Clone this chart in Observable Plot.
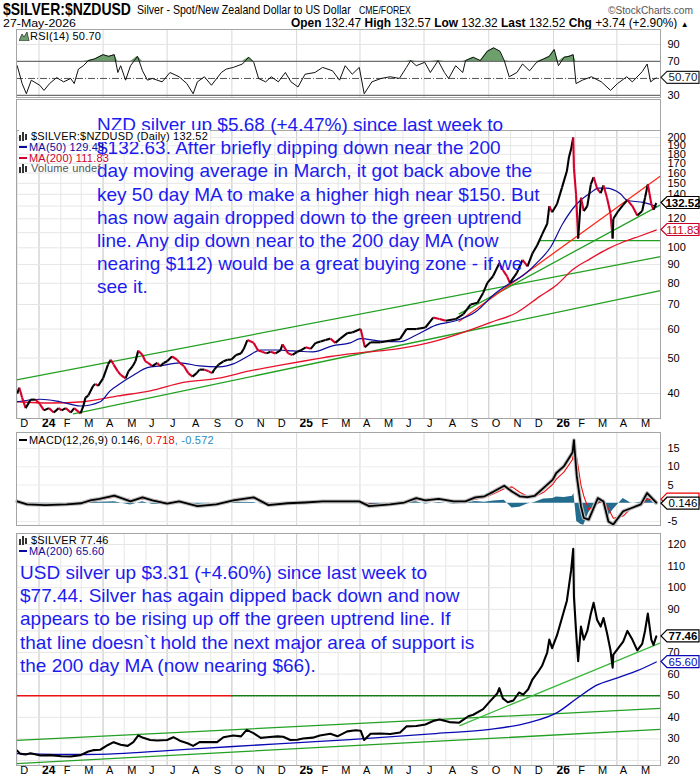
<!DOCTYPE html>
<html><head><meta charset="utf-8">
<script src="https://cdn.jsdelivr.net/npm/d3@7"></script>
<script src="https://cdn.jsdelivr.net/npm/@observablehq/plot@0.6"></script>
<style>
body{margin:0;background:#fff;}
#chart{position:relative;width:700px;height:780px;overflow:hidden;background:#fff;font-family:"Liberation Sans",Arial,Helvetica,sans-serif;}
#chart svg{position:absolute;left:0;}
.note{position:absolute;color:#1c1cf0;font-size:19px;line-height:23.2px;white-space:pre;font-family:"Liberation Sans",Arial,sans-serif;}
.leg{position:absolute;font-size:11px;letter-spacing:0.2px;line-height:10.5px;white-space:pre;font-family:"Liberation Sans",Arial,sans-serif;}
</style></head><body><div id="chart"></div>
<script>
// ---------------- DATA ----------------
const xStart = "2023-11-30", xEnd = "2026-06-02";
const monthStarts = ["2023-12-01","2024-01-01","2024-02-01","2024-03-01","2024-04-01","2024-05-01","2024-06-01","2024-07-01","2024-08-01","2024-09-01","2024-10-01","2024-11-01","2024-12-01","2025-01-01","2025-02-01","2025-03-01","2025-04-01","2025-05-01","2025-06-01","2025-07-01","2025-08-01","2025-09-01","2025-10-01","2025-11-01","2025-12-01","2026-01-01","2026-02-01","2026-03-01","2026-04-01","2026-05-01"];
const monthLabels = ["D","24","F","M","A","M","J","J","A","S","O","N","D","25","F","M","A","M","J","J","A","S","O","N","D","26","F","M","A","M"];

const rsiTicks = [90,70,30];
const priceGrid = [40,50,60,70,80,90,100,110,120,130,140,150,160,170,180,190,200];
const priceTickLabels = [40,50,60,70,80,90,100,120,140,150,160,170,180,190,200];
const macdTicks = [15,10,5,-5];
const usdGrid = [20,30,40,50,60,70,80,90,100,110,120];
const usdTickLabels = [20,30,40,50,60,70,90,100,110,120];

const rsi14 = [["2023-12-01",65],["2023-12-08",44],["2023-12-14",32],["2023-12-21",48],["2024-01-02",42],["2024-01-08",36],["2024-01-16",44],["2024-01-26",51],["2024-02-05",46],["2024-02-15",50],["2024-02-20",44],["2024-02-26",61],["2024-03-04",65],["2024-03-11",71],["2024-03-20",73],["2024-04-01",78],["2024-04-09",76],["2024-04-17",78],["2024-04-22",57],["2024-04-26",65],["2024-05-03",48],["2024-05-10",65],["2024-05-20",76],["2024-05-27",59],["2024-06-03",48],["2024-06-10",50],["2024-06-24",46],["2024-07-05",57],["2024-07-18",52],["2024-07-29",44],["2024-08-07",32],["2024-08-13",46],["2024-08-23",52],["2024-09-02",42],["2024-09-16",57],["2024-09-23",61],["2024-10-03",63],["2024-10-16",67],["2024-10-25",75],["2024-11-01",69],["2024-11-08",50],["2024-11-18",46],["2024-11-26",52],["2024-12-06",46],["2024-12-16",57],["2024-12-24",46],["2025-01-03",40],["2025-01-13",55],["2025-01-27",57],["2025-02-07",63],["2025-02-21",59],["2025-03-03",48],["2025-03-11",65],["2025-03-21",55],["2025-03-31",63],["2025-04-07",32],["2025-04-18",46],["2025-05-01",50],["2025-05-14",52],["2025-05-27",50],["2025-06-06",63],["2025-06-12",71],["2025-06-20",65],["2025-07-02",69],["2025-07-10",57],["2025-07-21",71],["2025-07-30",57],["2025-08-05",50],["2025-08-15",65],["2025-08-25",57],["2025-08-29",71],["2025-09-09",75],["2025-09-19",71],["2025-09-29",82],["2025-10-08",86],["2025-10-17",82],["2025-10-23",71],["2025-10-30",52],["2025-11-10",57],["2025-11-18",67],["2025-11-28",59],["2025-12-08",69],["2025-12-18",73],["2025-12-26",76],["2026-01-02",84],["2026-01-08",65],["2026-01-16",75],["2026-01-23",76],["2026-01-29",78],["2026-02-02",44],["2026-02-11",48],["2026-02-24",52],["2026-03-10",46],["2026-03-23",36],["2026-04-02",44],["2026-04-15",52],["2026-04-23",46],["2026-05-07",58],["2026-05-14",67],["2026-05-19",46],["2026-05-22",48],["2026-05-27",50.7]];

const nzdPrice = [["2023-12-01",40.0],["2023-12-04",41.5],["2023-12-08",39.0],["2023-12-13",36.5],["2023-12-20",38.5],["2023-12-27",38.5],["2024-01-02",37.5],["2024-01-08",36.0],["2024-01-15",36.5],["2024-01-22",35.5],["2024-01-29",36.5],["2024-02-02",36.0],["2024-02-08",36.5],["2024-02-15",35.5],["2024-02-20",36.5],["2024-02-29",35.3],["2024-03-04",37.0],["2024-03-07",39.0],["2024-03-11",39.5],["2024-03-18",42.0],["2024-03-21",42.5],["2024-03-25",42.0],["2024-04-01",44.0],["2024-04-08",48.0],["2024-04-12",49.5],["2024-04-16",48.0],["2024-04-22",46.0],["2024-04-26",45.0],["2024-05-03",44.0],["2024-05-07",46.0],["2024-05-13",47.5],["2024-05-17",49.0],["2024-05-21",52.4],["2024-05-27",51.0],["2024-05-31",49.0],["2024-06-04",48.5],["2024-06-10",47.5],["2024-06-17",48.5],["2024-06-21",47.5],["2024-06-26",48.5],["2024-07-01",49.0],["2024-07-08",50.5],["2024-07-15",49.5],["2024-07-19",48.5],["2024-07-25",47.5],["2024-07-31",45.5],["2024-08-06",44.5],["2024-08-12",45.5],["2024-08-16",46.5],["2024-08-23",46.5],["2024-08-29",46.0],["2024-09-03",45.5],["2024-09-06",46.5],["2024-09-12",48.0],["2024-09-19",49.0],["2024-09-25",49.5],["2024-09-30",49.5],["2024-10-07",51.0],["2024-10-14",51.5],["2024-10-18",53.0],["2024-10-23",56.0],["2024-10-28",55.5],["2024-11-01",55.0],["2024-11-07",52.5],["2024-11-13",52.0],["2024-11-19",51.5],["2024-11-25",52.0],["2024-12-02",51.5],["2024-12-09",52.5],["2024-12-12",54.5],["2024-12-20",51.5],["2024-12-26",51.0],["2025-01-02",52.0],["2025-01-07",52.5],["2025-01-14",53.5],["2025-01-21",53.0],["2025-01-28",55.0],["2025-02-04",55.5],["2025-02-11",56.0],["2025-02-18",56.5],["2025-02-25",55.0],["2025-03-04",56.5],["2025-03-14",58.5],["2025-03-21",58.7],["2025-04-02",60.0],["2025-04-08",53.5],["2025-04-16",55.2],["2025-04-30",55.2],["2025-05-14",55.8],["2025-05-28",56.4],["2025-06-06",60.0],["2025-06-20",60.0],["2025-07-03",60.6],["2025-07-14",64.5],["2025-07-23",63.9],["2025-08-01",63.2],["2025-08-15",63.9],["2025-08-26",65.9],["2025-09-05",70.0],["2025-09-15",70.8],["2025-09-23",75.3],["2025-09-29",80.2],["2025-10-07",83.6],["2025-10-16",90.8],["2025-10-21",87.0],["2025-10-27",83.6],["2025-10-31",80.2],["2025-11-10",85.4],["2025-11-18",92.7],["2025-11-25",89.0],["2025-12-02",96.5],["2025-12-09",101.8],["2025-12-16",109.0],["2025-12-23",116.3],["2025-12-26",130.0],["2025-12-30",125.0],["2026-01-06",131.7],["2026-01-13",146.0],["2026-01-20",162.0],["2026-01-23",177.0],["2026-01-26",186.0],["2026-01-29",200.0],["2026-01-30",165.0],["2026-02-02",140.0],["2026-02-05",106.0],["2026-02-09",137.0],["2026-02-13",126.0],["2026-02-18",130.0],["2026-02-23",149.0],["2026-02-27",156.0],["2026-03-04",145.0],["2026-03-09",141.0],["2026-03-13",148.0],["2026-03-18",137.0],["2026-03-23",124.0],["2026-03-26",106.0],["2026-03-27",120.0],["2026-04-03",126.0],["2026-04-10",131.0],["2026-04-16",135.0],["2026-04-23",130.0],["2026-04-30",122.5],["2026-05-07",126.0],["2026-05-11",137.0],["2026-05-15",149.0],["2026-05-20",131.7],["2026-05-23",127.0],["2026-05-27",132.52]];

const nzdMA50 = [["2023-12-01",38.0],["2024-01-03",38.6],["2024-01-31",38.0],["2024-02-29",37.0],["2024-03-28",38.0],["2024-04-11",40.7],["2024-04-26",42.7],["2024-05-14",44.9],["2024-06-03",47.1],["2024-06-21",47.6],["2024-07-19",48.5],["2024-08-16",47.6],["2024-09-13",47.3],["2024-10-03",48.2],["2024-10-23",50.5],["2024-11-11",52.6],["2024-12-05",52.6],["2024-12-27",52.3],["2025-01-24",52.0],["2025-02-21",54.0],["2025-03-18",55.0],["2025-04-02",56.5],["2025-04-30",55.6],["2025-05-28",55.4],["2025-06-20",57.8],["2025-07-18",61.5],["2025-08-15",63.2],["2025-09-12",66.8],["2025-10-10",75.0],["2025-11-01",80.2],["2025-11-17",83.6],["2025-12-08",90.8],["2025-12-28",100.5],["2026-01-14",116.3],["2026-02-03",131.7],["2026-02-22",141.0],["2026-03-06",145.5],["2026-03-16",145.5],["2026-04-06",140.4],["2026-04-16",134.6],["2026-05-09",133.0],["2026-05-27",129.48]];

const nzdMA200 = [["2023-12-01",38.0],["2024-01-17",37.7],["2024-03-04",38.0],["2024-04-22",39.4],["2024-06-07",40.7],["2024-07-24",42.9],["2024-09-10",44.0],["2024-10-28",46.2],["2024-12-13",48.0],["2025-01-31",49.8],["2025-02-18",50.5],["2025-04-06",51.8],["2025-05-24",53.0],["2025-07-10",55.2],["2025-08-26",58.8],["2025-10-03",62.5],["2025-11-10",66.6],["2025-12-13",73.8],["2026-01-06",79.3],["2026-01-28",87.1],["2026-02-22",93.3],["2026-03-19",99.3],["2026-04-10",103.7],["2026-05-04",107.7],["2026-05-27",111.83]];

const nzdUpperChannel = [["2023-11-30",43.6],["2026-06-02",94.6]];
const nzdLowerChannel = [["2024-02-19",35.2],["2026-06-02",76.4]];
const nzdUptrend = [["2025-08-20",66],["2026-06-02",131]];
const nzdResistance = [["2025-08-20",63],["2026-06-02",157]];
const nzdSupport = [["2025-12-13",104.6],["2026-06-02",104.6]];

const macdDates = ["2023-12-01","2023-12-15","2024-01-10","2024-02-09","2024-03-01","2024-03-14","2024-03-27","2024-04-17","2024-05-10","2024-05-27","2024-06-10","2024-07-01","2024-07-18","2024-08-13","2024-09-09","2024-10-03","2024-11-01","2024-11-22","2024-12-19","2025-01-13","2025-02-07","2025-03-06","2025-03-31","2025-04-14","2025-05-14","2025-06-03","2025-06-20","2025-07-03","2025-07-22","2025-08-12","2025-08-29","2025-09-12","2025-09-25","2025-10-08","2025-10-23","2025-11-03","2025-11-14","2025-11-25","2025-12-05","2025-12-18","2025-12-31","2026-01-05","2026-01-16","2026-01-28","2026-01-30","2026-02-03","2026-02-09","2026-02-13","2026-02-20","2026-03-05","2026-03-13","2026-03-20","2026-03-27","2026-04-10","2026-04-22","2026-05-05","2026-05-14","2026-05-27"];
const macdLine = [0.5,-0.3,-0.5,-0.3,0,0.8,1.2,2.1,0.5,1.6,0.8,-0.1,0.5,-0.8,-0.3,0.8,1.6,-0.5,0,0.2,0.5,0.5,0.5,-0.8,-0.3,0.2,1.4,0.8,1.2,0.5,0.5,1.6,1.9,3.2,4.8,3.2,1.9,1.7,2.0,4.2,6.5,8.3,10.2,13.9,17.3,7.5,-0.8,-4.0,-4.5,1.4,0.5,-5.0,-5.8,-2.2,-1.3,-0.3,2.8,0.146];
const signalLine = [0.6,-0.1,-0.4,-0.3,-0.1,0.4,0.9,1.7,1.0,1.2,1.1,0.2,0.3,-0.5,-0.4,0.5,1.4,0,-0.1,0.1,0.4,0.5,0.6,-0.2,-0.4,0,1.0,1.0,1.0,0.7,0.5,1.1,1.6,2.6,4.0,4.5,3.0,1.9,1.8,3.0,5.2,6.6,8.6,12.0,14.6,12.5,5.0,2.0,-1.8,0,0.8,-1.5,-4.1,-3.5,-1.2,-0.6,1.2,0.718];

const usdPrice = [["2023-12-01",24.6],["2023-12-05",23.2],["2023-12-13",22.8],["2023-12-20",23.4],["2024-01-03",22.3],["2024-01-17",22.5],["2024-02-02",22.0],["2024-02-15",21.9],["2024-02-29",22.5],["2024-03-11",24.2],["2024-03-18",24.8],["2024-03-28",25.0],["2024-04-08",27.2],["2024-04-16",28.5],["2024-04-26",27.3],["2024-05-06",26.8],["2024-05-14",28.5],["2024-05-21",31.6],["2024-05-28",30.5],["2024-06-07",29.5],["2024-06-17",29.3],["2024-07-01",29.5],["2024-07-10",30.8],["2024-07-19",29.2],["2024-07-30",28.0],["2024-08-07",26.8],["2024-08-16",28.5],["2024-08-30",28.5],["2024-09-10",28.5],["2024-09-19",30.8],["2024-10-03",31.6],["2024-10-14",31.2],["2024-10-22",34.2],["2024-10-31",32.8],["2024-11-11",30.5],["2024-11-20",30.8],["2024-12-05",31.2],["2024-12-13",31.0],["2024-12-23",29.5],["2025-01-02",29.6],["2025-01-10",30.2],["2025-01-24",30.6],["2025-02-03",31.6],["2025-02-18",32.4],["2025-02-28",31.2],["2025-03-14",33.5],["2025-03-26",34.0],["2025-04-02",33.8],["2025-04-07",29.5],["2025-04-16",32.4],["2025-04-30",32.5],["2025-05-14",32.3],["2025-05-28",33.0],["2025-06-06",35.8],["2025-06-20",36.0],["2025-07-03",36.7],["2025-07-14",38.3],["2025-07-23",39.0],["2025-08-06",37.8],["2025-08-20",37.5],["2025-09-02",40.5],["2025-09-09",41.2],["2025-09-23",43.8],["2025-10-03",47.5],["2025-10-13",51.0],["2025-10-16",53.5],["2025-10-21",48.8],["2025-10-28",47.0],["2025-11-05",47.8],["2025-11-13",51.5],["2025-11-19",50.5],["2025-11-26",53.0],["2025-12-02",57.5],["2025-12-10",61.0],["2025-12-16",64.0],["2025-12-23",70.0],["2025-12-26",76.0],["2025-12-30",72.0],["2026-01-06",78.0],["2026-01-13",86.0],["2026-01-20",94.0],["2026-01-23",101.0],["2026-01-26",108.0],["2026-01-29",118.0],["2026-01-30",96.0],["2026-02-02",80.0],["2026-02-05",66.0],["2026-02-09",82.0],["2026-02-13",76.0],["2026-02-18",80.0],["2026-02-23",88.0],["2026-02-27",93.0],["2026-03-04",85.0],["2026-03-09",82.0],["2026-03-13",86.0],["2026-03-18",79.0],["2026-03-23",71.0],["2026-03-26",63.0],["2026-03-27",69.0],["2026-04-03",72.0],["2026-04-10",75.0],["2026-04-16",80.0],["2026-04-23",76.0],["2026-04-30",71.0],["2026-05-07",74.0],["2026-05-11",80.0],["2026-05-15",88.0],["2026-05-20",76.0],["2026-05-23",73.5],["2026-05-27",77.46]];

const usdMA200 = [["2023-12-01",23.2],["2024-01-03",23.0],["2024-03-04",22.8],["2024-04-22",23.2],["2024-07-01",24.6],["2024-10-03",26.5],["2025-01-04",28.3],["2025-03-18",29.7],["2025-07-18",32.5],["2025-10-03",34.4],["2025-11-27",37.6],["2026-01-06",42.2],["2026-02-03",48.7],["2026-03-02",54.7],["2026-04-03",58.4],["2026-05-01",61.7],["2026-05-27",65.6]];

const usdUpperChannel = [["2023-11-30",29.3],["2026-06-02",44.1]];
const usdLowerChannel = [["2023-11-30",18.6],["2026-06-02",34.4]];
const usdUptrend = [["2025-08-21",36.2],["2026-06-02",74.5]];
const usdLevelRed = [["2023-11-30",50],["2024-10-01",50]];
const usdLevelGreen = [["2024-10-01",50],["2026-06-02",50]];

const nzdNote = "NZD silver up $5.68 (+4.47%) since last week to\n$132.63. After briefly dipping down near the 200\nday moving average in March, it got back above the\nkey 50 day MA to make a higher high near $150. But\nhas now again dropped down to the green uptrend\nline. Any dip down near to the 200 day MA (now\nnearing $112) would be a great buying zone - if we\nsee it.";
const usdNote = "USD silver up $3.31 (+4.60%) since last week to\n$77.44. Silver has again dipped back down and now\nappears to be rising up off the green uptrend line. If\nthat line doesn`t hold the next major area of support is\nthe 200 day MA (now nearing $66).";

// ---------------- HELPERS ----------------
const FONT = '"Liberation Sans", Arial, Helvetica, sans-serif';
const root = document.getElementById("chart");
const P = arr => arr.map(([d, v]) => ({date: new Date(d), v}));
const last = arr => arr[arr.length - 1][1];
const xDomain = [new Date(xStart), new Date(xEnd)];
const months = monthStarts.map((d, i) => {
  const dt = new Date(d);
  return {date: dt, label: monthLabels[i], year: /\d/.test(monthLabels[i]), q: dt.getUTCMonth() % 3 === 0};
});
const quarters = months.filter(m => m.q);
const W = 700, ML = 16, MR = 40;
const GREEN = "#22a022", RED = "#e8102a", NAVY = "#0a0a9c", TEAL = "#236c8e";
const style = {background: "transparent", overflow: "visible", fontFamily: FONT, fontSize: "11px", color: "#000"};
const frame = () => Plot.frame({stroke: "#a5a5a5"});
const xLabels = (dy) => [
  Plot.text(months.filter(m => !m.year), {x: "date", text: "label", frameAnchor: "bottom", dy, dx: 3, textAnchor: "start", fontSize: 11}),
  Plot.text(months.filter(m => m.year), {x: "date", text: "label", frameAnchor: "bottom", dy, dx: 3, textAnchor: "start", fontSize: 12, fontWeight: "bold"})
];
const yAxis = (ticks) => Plot.axisY({anchor: "right", ticks, tickSize: 0, tickPadding: 7, tickFormat: d => String(d), label: null, fontSize: 11});

function place(el, top) { el.style.top = top + "px"; root.appendChild(el); }
function valueBox(svg, y, label, color, bold) {
  const x0 = W - MR + 1, h = 6, w = 38;
  const g = d3.select(svg).append("g");
  g.append("path").attr("d", `M${x0},${y} L${x0+6},${y-h} L${x0+w},${y-h} L${x0+w},${y+h} L${x0+6},${y+h} Z`)
    .attr("fill", "white").attr("stroke", color).attr("stroke-width", 1.2);
  g.append("text").attr("x", x0 + 6 + (w - 6) / 2).attr("y", y + 4).attr("text-anchor", "middle").attr("fill", color)
    .attr("font-size", 11.5).attr("font-weight", bold ? "bold" : "normal").attr("font-family", FONT).text(label);
}
function segments(pts) {
  const out = [];
  for (let i = 1; i < pts.length; i++) out.push({x1: pts[i-1].date, y1: pts[i-1].v, x2: pts[i].date, y2: pts[i].v, up: pts[i].v >= pts[i-1].v});
  return out;
}

// ---------------- HEADER ----------------
const header = document.createElementNS("http://www.w3.org/2000/svg", "svg");
header.setAttribute("width", 700); header.setAttribute("height", 29);
header.innerHTML = `
<text id="h1" font-family='${FONT}' font-weight="bold" font-size="16">$SILVER:$NZDUSD</text>
<text id="h2" font-family='${FONT}' font-size="12">Silver - Spot/New Zealand Dollar to US Dollar</text>
<text id="h3" font-family='${FONT}' font-size="10">CME/FOREX</text>
<text id="h4" font-family='${FONT}' font-size="10.5" fill="#555">©StockCharts.com</text>
<text id="h5" font-family='${FONT}' font-size="11.5">27-May-2026</text>
<text id="h6" font-family='${FONT}' font-size="12"><tspan font-weight="bold">Open</tspan> 132.47 <tspan font-weight="bold">High</tspan> 132.57 <tspan font-weight="bold">Low</tspan> 132.32 <tspan font-weight="bold">Last</tspan> 132.52 <tspan font-weight="bold">Chg</tspan> +3.74 (+2.90%) <tspan font-size="8">▲</tspan></text>`;
place(header, 0);
function fitText(id, x, y, target) {
  const el = header.querySelector("#" + id);
  const s = target / el.getComputedTextLength();
  el.setAttribute("transform", `translate(${x},${y}) scale(${s},1)`);
}
fitText("h1", 3, 15, 128);
fitText("h2", 137, 14, 214);
fitText("h3", 359, 14, 52);
fitText("h4", 608, 14, 85);
fitText("h5", 3, 27, 73);
fitText("h6", 291, 27, 398);

// ---------------- RSI ----------------
const rsiPts = P(rsi14);
const rsiPlot = Plot.plot({
  width: W, height: 78, marginLeft: ML, marginRight: MR, marginTop: 5, marginBottom: 5, style,
  x: {type: "utc", domain: xDomain, axis: null},
  y: {domain: [27.6, 107.6], axis: null},
  marks: [
    Plot.ruleX(quarters, {x: "date", stroke: "#d8d8d8"}),
    Plot.ruleY([90], {stroke: "#e4e4e4"}),
    Plot.areaY(rsiPts, {x: "date", y1: 70, y2: d => Math.max(d.v, 70), fill: "#6d9f6d"}),
    Plot.ruleY([70, 30], {stroke: "#6e6e6e", strokeWidth: 1.2}),
    Plot.ruleY([50], {stroke: "#555", strokeDasharray: "7,2,1,2"}),
    Plot.line(rsiPts, {x: "date", y: "v", stroke: "#111", strokeWidth: 1}),
    yAxis(rsiTicks),
    frame()
  ]
});
place(rsiPlot, 24);
valueBox(rsiPlot, rsiPlot.scale("y").apply(last(rsi14)), last(rsi14).toFixed(2), "#222", false);

// ---------------- NZD PRICE ----------------
const nzdPts = P(nzdPrice);
const priceTop = 209, priceBottom = 34.2;
const pricePlot = Plot.plot({
  width: W, height: 335, marginLeft: ML, marginRight: MR, marginTop: 2, marginBottom: 14, style,
  x: {type: "utc", domain: xDomain, axis: null},
  y: {type: "log", domain: [priceBottom, 254], axis: null},
  marks: [
    Plot.ruleX(months, {x: "date", y1: priceBottom, y2: priceTop, stroke: "#e6e6e6"}),
    Plot.ruleX(quarters, {x: "date", y1: priceBottom, y2: priceTop, stroke: "#cdcdcd"}),
    Plot.ruleY(priceGrid, {stroke: "#e6e6e6"}),
    Plot.ruleY([priceTop], {stroke: "#a5a5a5"}),
    Plot.line(P(nzdUpperChannel), {x: "date", y: "v", stroke: GREEN, strokeWidth: 1.3}),
    Plot.line(P(nzdLowerChannel), {x: "date", y: "v", stroke: GREEN, strokeWidth: 1.3}),
    Plot.line(P(nzdUptrend), {x: "date", y: "v", stroke: GREEN, strokeWidth: 1.3}),
    Plot.line(P(nzdSupport), {x: "date", y: "v", stroke: GREEN, strokeWidth: 1.3}),
    Plot.line(P(nzdResistance), {x: "date", y: "v", stroke: "#ff2a1a", strokeWidth: 1.3}),
    Plot.line(P(nzdMA200), {x: "date", y: "v", stroke: RED, strokeWidth: 1.3, curve: "monotone-x"}),
    Plot.line(P(nzdMA50), {x: "date", y: "v", stroke: NAVY, strokeWidth: 1.2, curve: "monotone-x"}),
    Plot.link(segments(nzdPts), {x1: "x1", y1: "y1", x2: "x2", y2: "y2", stroke: d => d.up ? "#000" : "#d4002a", strokeWidth: 2.1}),
    yAxis(priceTickLabels),
    xLabels(8),
    frame()
  ]
});
place(pricePlot, 97);
valueBox(pricePlot, pricePlot.scale("y").apply(last(nzdMA200)), last(nzdMA200).toFixed(2), "#c8002a", false);
valueBox(pricePlot, pricePlot.scale("y").apply(last(nzdPrice)), last(nzdPrice).toFixed(2), "#000", true);

// ---------------- MACD ----------------
const macdPts = macdDates.map((d, i) => ({date: new Date(d), m: macdLine[i], s: signalLine[i]}));
const macdPlot = Plot.plot({
  width: W, height: 99, marginLeft: ML, marginRight: MR, marginTop: 4, marginBottom: 2, style,
  x: {type: "utc", domain: xDomain, axis: null},
  y: {domain: [-6.1, 19.4], axis: null},
  marks: [
    Plot.ruleX(quarters, {x: "date", stroke: "#d8d8d8"}),
    Plot.ruleY(macdTicks, {stroke: "#ececec"}),
    Plot.areaY(macdPts, {x: "date", y: d => d.m - d.s, fill: TEAL}),
    Plot.line(macdPts, {x: "date", y: "s", stroke: "#ee1111", strokeWidth: 1.1}),
    Plot.line(macdPts, {x: "date", y: "m", stroke: "#bdbdbd", strokeWidth: 4}),
    Plot.line(macdPts, {x: "date", y: "m", stroke: "#000", strokeWidth: 1.8}),
    yAxis(macdTicks),
    frame()
  ]
});
place(macdPlot, 428);
valueBox(macdPlot, macdPlot.scale("y").apply(signalLine[signalLine.length-1]) - 1, "", "#e00", false);
valueBox(macdPlot, macdPlot.scale("y").apply(macdLine[macdLine.length-1]) + 1, String(macdLine[macdLine.length-1]), "#000", false);

// ---------------- USD PRICE ----------------
const usdPlot = Plot.plot({
  width: W, height: 253, marginLeft: ML, marginRight: MR, marginTop: 6, marginBottom: 15, style,
  x: {type: "utc", domain: xDomain, axis: null},
  y: {domain: [17.7, 125.1], axis: null},
  marks: [
    Plot.ruleX(months, {x: "date", stroke: "#e6e6e6"}),
    Plot.ruleX(quarters, {x: "date", stroke: "#cdcdcd"}),
    Plot.ruleY(usdGrid, {stroke: "#e6e6e6"}),
    Plot.line(P(usdLevelRed), {x: "date", y: "v", stroke: "#ee1111", strokeWidth: 1.3}),
    Plot.line(P(usdLevelGreen), {x: "date", y: "v", stroke: "#137a13", strokeWidth: 1.3, strokeDasharray: "2,1"}),
    Plot.line(P(usdUpperChannel), {x: "date", y: "v", stroke: GREEN, strokeWidth: 1.3}),
    Plot.line(P(usdLowerChannel), {x: "date", y: "v", stroke: GREEN, strokeWidth: 1.3}),
    Plot.line(P(usdUptrend), {x: "date", y: "v", stroke: "#3bb83b", strokeWidth: 1.3}),
    Plot.line(P(usdMA200), {x: "date", y: "v", stroke: "#0a0ab4", strokeWidth: 1.3, curve: "monotone-x"}),
    Plot.line(P(usdPrice), {x: "date", y: "v", stroke: "#000", strokeWidth: 2.1}),
    yAxis(usdTickLabels),
    xLabels(8),
    frame()
  ]
});
place(usdPlot, 527);
valueBox(usdPlot, usdPlot.scale("y").apply(last(usdMA200)), last(usdMA200).toFixed(2), "#0a0ab4", false);
valueBox(usdPlot, usdPlot.scale("y").apply(last(usdPrice)), last(usdPrice).toFixed(2), "#000", true);

// ---------------- ANNOTATIONS ----------------
function note(text, left, top) {
  const d = document.createElement("div"); d.className = "note"; d.textContent = text;
  d.style.left = left + "px"; place(d, top);
}
note(nzdNote, 97, 113);
note(usdNote, 20, 561);

// ---------------- LEGENDS ----------------
const icon = `<svg width="10" height="9" style="position:static;display:inline-block;vertical-align:-1px;margin-right:2px"><rect x="0" y="3" width="2" height="6" fill="#333"/><rect x="3" y="0" width="2" height="9" fill="#333"/><rect x="6" y="2" width="2" height="6" fill="#333"/></svg>`;
const dash = c => `<span style="display:inline-block;width:8px;height:2px;background:${c};vertical-align:3px;margin-right:2px"></span>`;
function legend(html, left, top) {
  const d = document.createElement("div"); d.className = "leg"; d.innerHTML = html;
  d.style.left = left + "px"; place(d, top);
}
legend(`<svg width="11" height="9" style="position:static;display:inline-block;vertical-align:-1px"><path d="M0,9 L3,2 L5,5 L8,0 L10,9 Z" fill="#6d9f6d" stroke="#333" stroke-width="0.8"/></svg>RSI(14) ${last(rsi14).toFixed(2)}`, 19, 31);
legend(`<span style="background:#fff;padding-right:2px">${icon}$SILVER:$NZDUSD (Daily) ${last(nzdPrice).toFixed(2)}</span>`, 19, 131);
legend(`<span style="color:${NAVY}">${dash(NAVY)}MA(50) ${last(nzdMA50).toFixed(2)}</span>`, 19, 142);
legend(`<span style="color:#d0002a">${dash("#d0002a")}MA(200) ${last(nzdMA200).toFixed(2)}</span>`, 19, 153);
legend(`<span style="color:#555">${icon}Volume undef</span>`, 19, 163);
legend(`${dash("#000")}MACD(12,26,9) ${macdLine[macdLine.length-1]}<span style="color:#e00">, ${signalLine[signalLine.length-1]}</span><span style="color:#2a8ac0">, ${(macdLine[macdLine.length-1]-signalLine[signalLine.length-1]).toFixed(3)}</span>`, 19, 435);
legend(`${icon}$SILVER ${last(usdPrice).toFixed(2)}`, 19, 535);
legend(`<span style="color:${NAVY}">${dash(NAVY)}MA(200) ${last(usdMA200).toFixed(2)}</span>`, 19, 546);
</script></body></html>
